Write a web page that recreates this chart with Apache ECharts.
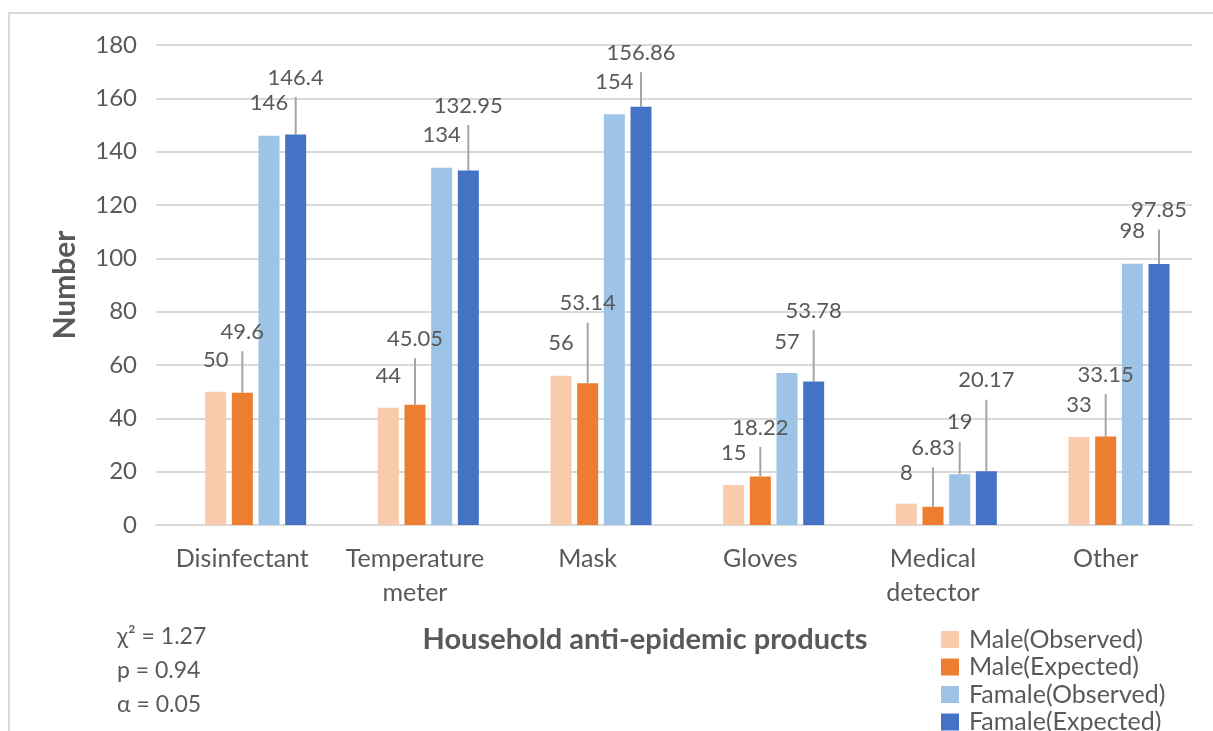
<!DOCTYPE html>
<html>
<head>
<meta charset="utf-8">
<title>Household anti-epidemic products</title>
<script src="https://cdn.jsdelivr.net/npm/echarts@6/dist/echarts.min.js"></script>
<style>
  html, body { margin: 0; padding: 0; background: #ffffff; }
  #chart { width: 1213px; height: 731px; }
</style>
</head>
<body>
<div id="chart"></div>
<script>
// Product categories on the x axis
const categories = ['Disinfectant', 'Temperature\nmeter', 'Mask', 'Gloves', 'Medical\ndetector', 'Other'];

// Observed and expected counts per category
const maleObserved   = [50, 44, 56, 15, 8, 33];
const maleExpected   = [49.6, 45.05, 53.14, 18.22, 6.83, 33.15];
const femaleObserved = [146, 134, 154, 57, 19, 98];
const femaleExpected = [146.4, 132.95, 156.86, 53.78, 20.17, 97.85];

// Value axis range
const yMin = 0, yMax = 180, yStep = 20;

// Chi-square test summary
const statLines = ['χ² = 1.27', 'p = 0.94', 'α = 0.05'];

// Label placement: pixels from bar top to label centre, and which labels get a leader line
const liftMaleObs   = [32, 32, 33, 32, 31, 32];
const liftMaleExp   = [61, 66, 80, 49, 59, 62];
const liftFemaleObs = [33, 33, 32, 31, 52, 33];
const liftFemaleExp = [57, 65, 54, 71, 91, 54];
const leaderMaleObs   = [false, false, false, false, false, false];
const leaderMaleExp   = [true, true, true, true, true, true];
const leaderFemaleObs = [false, false, false, false, true, false];
const leaderFemaleExp = [true, true, true, true, true, true];

const FONT = 'Lato';
const TEXT = '#595959';
const GRID = '#d9d9d9';

function barSeries(name, color, values, lifts, leaders) {
  return {
    name: name,
    type: 'bar',
    barWidth: 21,
    barGap: '27%',
    itemStyle: { color: color },
    data: values.map((v, i) => ({
      value: v,
      labelLine: { show: leaders[i] }
    })),
    label: {
      show: true,
      position: 'top',
      color: TEXT,
      fontFamily: FONT,
      fontSize: 22,
      lineHeight: 23,
      padding: [8, 0, 8, 0],
      formatter: p => String(p.value)
    },
    labelLine: {
      show: false,
      lineStyle: { color: '#a5a5a5', width: 2 }
    },
    labelLayout: p => ({
      x: p.rect.x + p.rect.width / 2,
      y: p.rect.y - lifts[p.dataIndex],
      align: 'center',
      verticalAlign: 'middle'
    }),
    animation: false
  };
}

const chart = echarts.init(document.getElementById('chart'), null, { renderer: 'canvas' });

chart.setOption({
  backgroundColor: '#ffffff',
  animation: false,
  textStyle: { fontFamily: FONT },
  grid: { left: 156, right: 21, top: 45, bottom: 206, containLabel: false },
  legend: {
    orient: 'vertical',
    left: 941,
    top: 627,
    height: 140,
    padding: 0,
    itemWidth: 18,
    itemHeight: 17,
    itemGap: 2.5,
    icon: 'rect',
    data: ['Male(Observed)', 'Male(Expected)', 'Famale(Observed)', 'Famale(Expected)'],
    textStyle: { color: TEXT, fontFamily: FONT, fontSize: 25, lineHeight: 22, padding: [0, 0, 0, 5] }
  },
  xAxis: {
    type: 'category',
    data: categories,
    axisTick: { show: false },
    axisLine: { show: true, lineStyle: { color: GRID, width: 2 } },
    axisLabel: {
      color: TEXT,
      fontFamily: FONT,
      fontSize: 25,
      lineHeight: 34,
      margin: 17,
      interval: 0
    }
  },
  yAxis: {
    type: 'value',
    min: yMin,
    max: yMax,
    interval: yStep,
    name: 'Number',
    nameLocation: 'middle',
    nameGap: 76,
    nameTextStyle: { color: TEXT, fontFamily: FONT, fontSize: 30, fontWeight: 'bold' },
    axisLine: { show: false },
    axisTick: { show: false },
    axisLabel: { color: TEXT, fontFamily: FONT, fontSize: 24, margin: 19 },
    splitLine: { lineStyle: { color: GRID, width: 2 } }
  },
  series: [
    // empty leading slot keeps each bar group right of the category centre
    { name: 'slot', type: 'bar', barWidth: 21, barGap: '27%', data: categories.map(() => null), silent: true },
    barSeries('Male(Observed)', '#F8CBAD', maleObserved, liftMaleObs, leaderMaleObs),
    barSeries('Male(Expected)', '#ED7D31', maleExpected, liftMaleExp, leaderMaleExp),
    barSeries('Famale(Observed)', '#9DC3E6', femaleObserved, liftFemaleObs, leaderFemaleObs),
    barSeries('Famale(Expected)', '#4472C4', femaleExpected, liftFemaleExp, leaderFemaleExp)
  ],
  graphic: [
    {
      type: 'rect',
      silent: true,
      shape: { x: 9, y: 13, width: 1400, height: 900 },
      style: { fill: 'none', stroke: GRID, lineWidth: 2 }
    },
    {
      type: 'text',
      silent: true,
      x: 645,
      y: 640,
      style: {
        text: 'Household anti-epidemic products',
        font: 'bold 29px ' + FONT,
        fill: TEXT,
        textAlign: 'center',
        textVerticalAlign: 'middle'
      }
    }
  ].concat(statLines.map((t, i) => ({
    type: 'text',
    silent: true,
    x: 117,
    y: 637 + i * 34,
    style: {
      text: t,
      font: '23px ' + FONT,
      fill: TEXT,
      textAlign: 'left',
      textVerticalAlign: 'middle'
    }
  })))
});
</script>
</body>
</html>
